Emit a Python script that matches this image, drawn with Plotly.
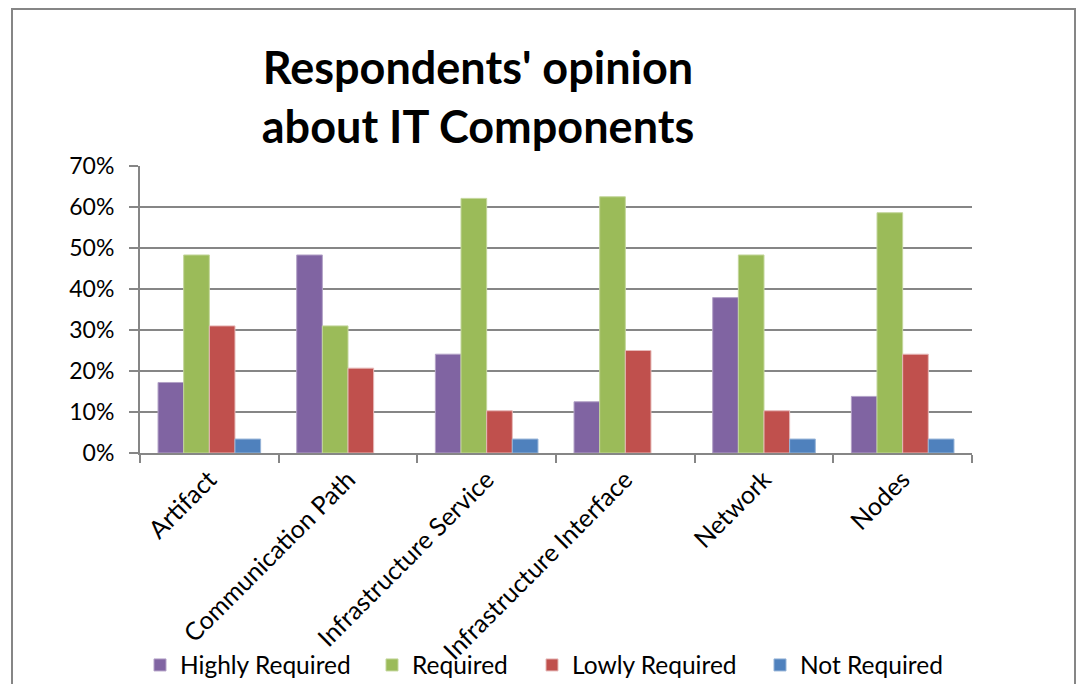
import plotly.graph_objects as go

categories = ["Artifact", "Communication Path", "Infrastructure Service",
              "Infrastructure Interface", "Network", "Nodes"]
highly_required = [0.172, 0.483, 0.241, 0.125, 0.379, 0.138]
required = [0.483, 0.310, 0.621, 0.625, 0.483, 0.586]
lowly_required = [0.310, 0.207, 0.103, 0.250, 0.103, 0.241]
not_required = [0.034, 0.0, 0.034, 0.0, 0.034, 0.034]

series = [
    ("Highly Required", highly_required, "#8064A2", "#B3A2C7"),
    ("Required", required, "#9BBB59", "#C3D69B"),
    ("Lowly Required", lowly_required, "#C0504D", "#E6B9B8"),
    ("Not Required", not_required, "#4F81BD", "#95B3D7"),
]
# left edge (px) of each legend entry along the bottom row
legend_x_px = [140, 372, 532, 760]

FONT = "Lato, Calibri, sans-serif"

# plot area in pixels: x 140..972, y 166..453
L, R, T, B = 140, 972, 166, 453
W, H = 1079, 684
pw, ph = R - L, B - T

def px_x(x):
    return (x - L) / pw

def px_y(y):
    return (B - y) / ph

fig = go.Figure()
legends = {}
for i, (name, vals, color, edge) in enumerate(series):
    key = "legend" if i == 0 else f"legend{i + 1}"
    fig.add_trace(go.Bar(
        x=categories, y=vals, name=name, legend=key,
        marker=dict(color=color,
                    line=dict(color=edge, width=[1 if v > 0 else 0 for v in vals])),
    ))
    legends[key] = dict(
        orientation="h", xref="container", yref="container",
        x=legend_x_px[i] / W, y=1 - 665 / H, xanchor="left", yanchor="middle",
        font=dict(size=24.5), itemwidth=30, bgcolor="rgba(0,0,0,0)",
    )

fig.update_layout(
    width=W, height=H,
    margin=dict(l=L, r=W - R, t=T, b=H - B),
    paper_bgcolor="white", plot_bgcolor="white",
    font=dict(family=FONT, size=20, color="black"),
    barmode="group", bargap=0.26, bargroupgap=0,
    showlegend=True,
    title=dict(text="<b>Respondents' opinion<br>about IT Components</b>",
               font=dict(family=FONT, size=45, color="black"),
               x=478 / W, xanchor="center", y=1 - 84 / H, yanchor="middle"),
    xaxis=dict(
        type="category", tickangle=-45, tickson="boundaries",
        ticks="outside", ticklen=8, tickcolor="#868686", tickwidth=2,
        showline=True, linecolor="#868686", linewidth=2,
        showgrid=False, tickfont=dict(size=25), automargin=False,
    ),
    yaxis=dict(
        range=[0, 0.7], dtick=0.1, tickformat=".0%",
        ticks="outside", ticklen=9, tickcolor="#868686", tickwidth=2,
        showline=True, linecolor="#868686", linewidth=2,
        showgrid=True, gridcolor="#868686", gridwidth=1.5,
        zeroline=False, tickfont=dict(size=23), ticklabelstandoff=10,
        automargin=False,
    ),
    shapes=[dict(type="rect", xref="paper", yref="paper",
                 x0=px_x(12), x1=px_x(1075), y0=px_y(720), y1=px_y(9),
                 line=dict(color="#868686", width=2), layer="below")],
    **legends,
)

fig.write_html("out.html")
